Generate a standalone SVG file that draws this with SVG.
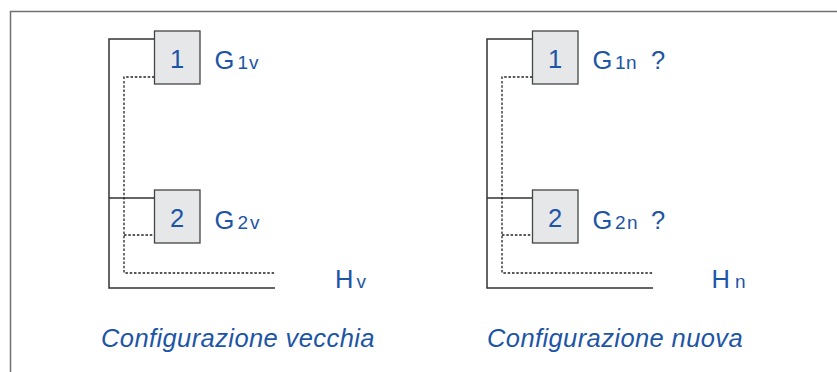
<svg xmlns="http://www.w3.org/2000/svg" width="837" height="372" viewBox="0 0 837 372">
<style>
.frame{fill:none;stroke:#707070;stroke-width:1.5}
.solid{fill:none;stroke:#333;stroke-width:1.5}
.dot{fill:none;stroke:#222;stroke-width:1.3;stroke-dasharray:2.5 1.8}
.box{fill:#e6e7e9;stroke:#444;stroke-width:1.3}
.t{font-family:"Liberation Sans",Arial,Helvetica,sans-serif;fill:#1d55a6;font-size:25.5px}
.s{font-size:19px}
.num{text-anchor:middle}
.cap{font-family:"Liberation Sans",Arial,Helvetica,sans-serif;fill:#1d55a6;font-size:25.5px;font-style:italic;letter-spacing:0.4px}
</style>
<rect width="837" height="372" fill="#fff"/>
<path class="frame" d="M10.5 372 V11.5 H837"/>
<g id="connectors">
  <path class="solid" d="M154.5 39 H109 V288 H275"/>
  <path class="solid" d="M109 198 H154.5"/>
  <path class="dot" d="M154.5 77 H124 V273 H275"/>
  <path class="dot" d="M124 235 H154.5"/>
  <path class="solid" d="M532.5 39 H487 V288 H653"/>
  <path class="solid" d="M487 198 H532.5"/>
  <path class="dot" d="M532.5 77 H502 V273 H653"/>
  <path class="dot" d="M502 235 H532.5"/>
</g>
<g id="node-v1">
  <rect class="box" x="154.5" y="31" width="45.5" height="53"/>
  <text class="t num" x="177" y="67.5">1</text>
</g>
<g id="node-v2">
  <rect class="box" x="154.5" y="190" width="45.5" height="53"/>
  <text class="t num" x="177" y="227">2</text>
</g>
<g id="node-n1">
  <rect class="box" x="532.5" y="31" width="45.5" height="53"/>
  <text class="t num" x="555" y="67.5">1</text>
</g>
<g id="node-n2">
  <rect class="box" x="532.5" y="190" width="45.5" height="53"/>
  <text class="t num" x="555" y="227">2</text>
</g>
<g id="label-G1v"><text class="t" x="214.5" y="69">G<tspan class="s" x="237.5">1</tspan><tspan class="s" x="249">v</tspan></text></g>
<g id="label-G2v"><text class="t" x="214.5" y="229">G<tspan class="s" x="237.5">2</tspan><tspan class="s" x="250">v</tspan></text></g>
<g id="label-Hv"><text class="t" x="335" y="287.5">H<tspan class="s" x="356.5">v</tspan></text></g>
<g id="label-G1n"><text class="t" x="592.5" y="69">G<tspan class="s" x="615">1</tspan><tspan class="s" x="626">n</tspan><tspan x="651">?</tspan></text></g>
<g id="label-G2n"><text class="t" x="592.5" y="229">G<tspan class="s" x="615">2</tspan><tspan class="s" x="627">n</tspan><tspan x="651">?</tspan></text></g>
<g id="label-Hn"><text class="t" x="711.5" y="287.5">H<tspan class="s" x="735">n</tspan></text></g>
<text class="cap" x="101" y="347">Configurazione vecchia</text>
<text class="cap" x="487" y="347">Configurazione nuova</text>
</svg>
